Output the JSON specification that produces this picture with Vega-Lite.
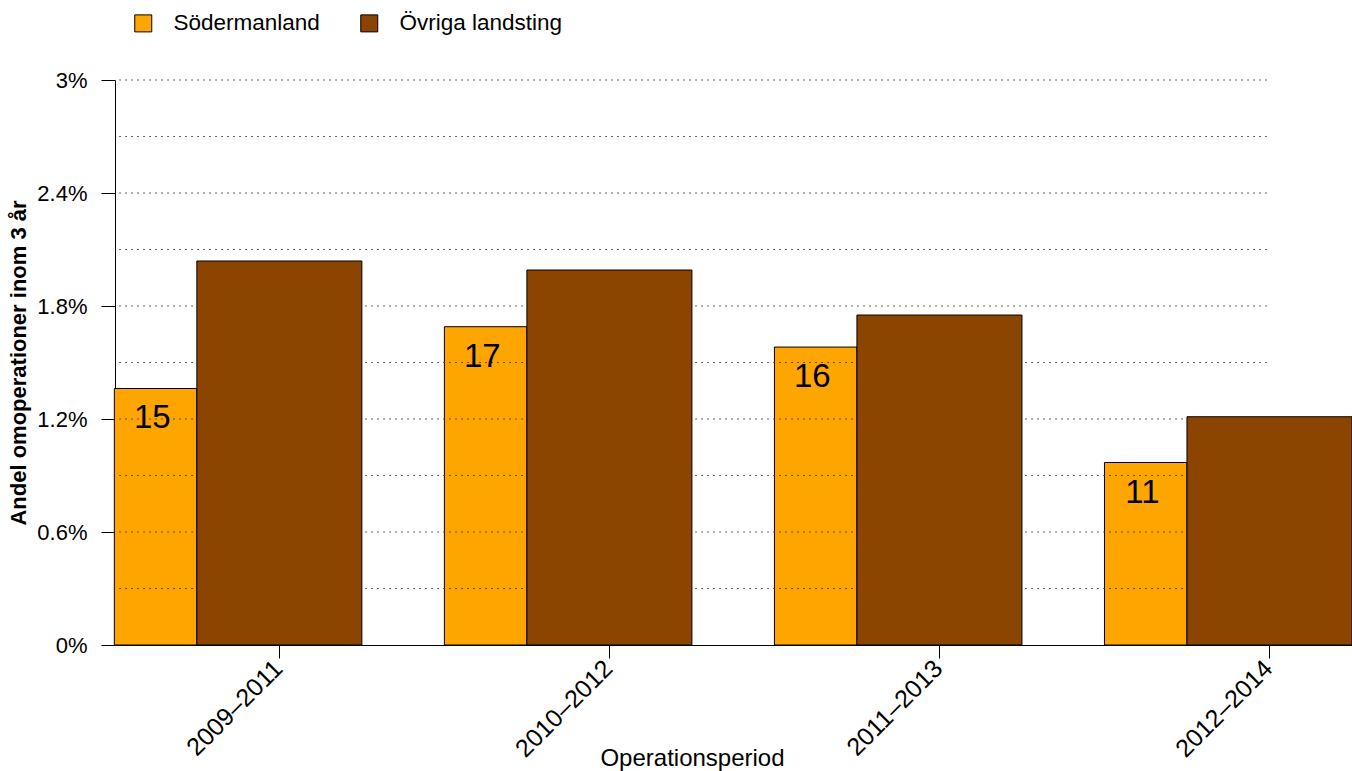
{
  "$schema": "https://vega.github.io/schema/vega-lite/v6.json",
  "width": 1237,
  "height": 565,
  "autosize": {"type": "none"},
  "padding": {"left": 115, "top": 80, "right": 0, "bottom": 126},
  "background": "white",
  "config": {"font": "Liberation Sans", "view": {"stroke": null}},
  "datasets": {
    "bars": [
      {"period": "2009–2011", "series": "Södermanland", "value": 1.362, "n": 15},
      {"period": "2009–2011", "series": "Övriga landsting", "value": 2.039, "n": null},
      {"period": "2010–2012", "series": "Södermanland", "value": 1.690, "n": 17},
      {"period": "2010–2012", "series": "Övriga landsting", "value": 1.991, "n": null},
      {"period": "2011–2013", "series": "Södermanland", "value": 1.582, "n": 16},
      {"period": "2011–2013", "series": "Övriga landsting", "value": 1.752, "n": null},
      {"period": "2012–2014", "series": "Södermanland", "value": 0.969, "n": 11},
      {"period": "2012–2014", "series": "Övriga landsting", "value": 1.212, "n": null}
    ],
    "grid": [
      {"v": 0.3}, {"v": 0.6}, {"v": 0.9}, {"v": 1.2}, {"v": 1.5},
      {"v": 1.8}, {"v": 2.1}, {"v": 2.4}, {"v": 2.7}, {"v": 3.0}
    ]
  },
  "data": {"name": "bars"},
  "encoding": {
    "x": {
      "field": "period",
      "type": "nominal",
      "sort": null,
      "scale": {"paddingInner": 0.5, "paddingOuter": 0.124, "align": 1},
      "axis": {
        "title": "Operationsperiod",
        "titleFontSize": 24,
        "titleFontWeight": "normal",
        "titleColor": "black",
        "titleX": 577,
        "titleY": 120,
        "titleBaseline": "alphabetic",
        "labelAngle": -45,
        "labelAlign": "right",
        "labelBaseline": "middle",
        "labelFontSize": 25,
        "labelColor": "black",
        "labelPadding": 6,
        "labelOffset": -1,
        "tickSize": 13,
        "tickColor": "black",
        "domainColor": "black",
        "grid": false
      }
    },
    "y": {
      "field": "value",
      "type": "quantitative",
      "scale": {"domain": [0, 3], "nice": false, "zero": true},
      "axis": {
        "title": "Andel omoperationer inom 3 år",
        "titleFontSize": 22,
        "titleFontWeight": "bold",
        "titleColor": "black",
        "titlePadding": 6,
        "values": [0, 0.6, 1.2, 1.8, 2.4, 3],
        "labelExpr": "datum.value + '%'",
        "labelFontSize": 22,
        "labelColor": "black",
        "labelPadding": 14,
        "tickSize": 14,
        "tickColor": "black",
        "domainColor": "black",
        "grid": false
      }
    }
  },
  "layer": [
    {
      "transform": [{"filter": "datum.series === 'Södermanland'"}],
      "mark": {
        "type": "bar",
        "width": {"band": 0.5},
        "xOffset": {"expr": "-0.75*bandwidth('x')"},
        "stroke": "black",
        "strokeWidth": 1
      },
      "encoding": {
        "color": {
          "field": "series",
          "type": "nominal",
          "scale": {"domain": ["Södermanland", "Övriga landsting"], "range": ["#FFA500", "#8B4500"]},
          "legend": {
            "title": null,
            "orient": "none",
            "legendX": 17,
            "legendY": -68,
            "direction": "horizontal",
            "symbolType": "square",
            "symbolSize": 289,
            "symbolStrokeColor": "black",
            "symbolStrokeWidth": 1,
            "symbolOpacity": 1,
            "labelFontSize": 22.5,
            "labelColor": "black",
            "labelLimit": 400,
            "labelOffset": 19,
            "columnPadding": 38
          }
        }
      }
    },
    {
      "data": {"name": "grid"},
      "mark": {"type": "rule", "color": "#333333", "strokeWidth": 1, "strokeDash": [1.5, 4.5]},
      "encoding": {
        "x": {"datum": "2009–2011", "bandPosition": -0.47},
        "x2": {"datum": "2012–2014"},
        "y": {"field": "v", "type": "quantitative"}
      }
    },
    {
      "transform": [{"filter": "datum.series === 'Övriga landsting'"}],
      "mark": {"type": "bar", "stroke": "black", "strokeWidth": 1},
      "encoding": {
        "color": {"field": "series", "type": "nominal"}
      }
    },
    {
      "transform": [{"filter": "datum.series === 'Södermanland'"}],
      "mark": {
        "type": "text",
        "fontSize": 33,
        "baseline": "alphabetic",
        "align": "center",
        "dy": 40,
        "xOffset": {"expr": "-0.77*bandwidth('x')"},
        "color": "black"
      },
      "encoding": {
        "text": {"field": "n", "type": "quantitative"}
      }
    }
  ]
}
